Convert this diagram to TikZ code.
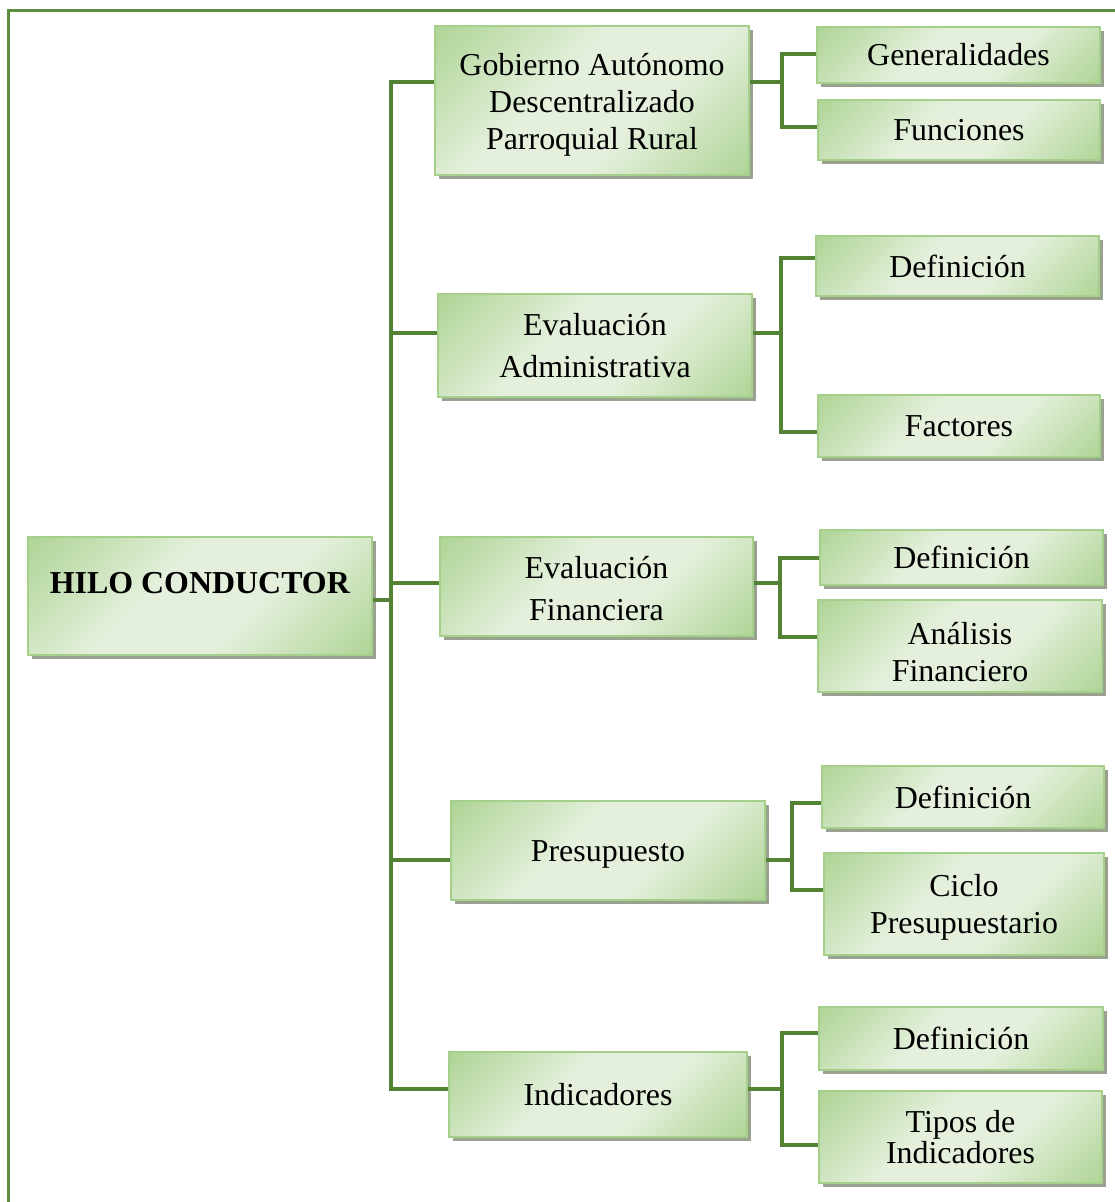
\documentclass[tikz,border=0pt]{standalone}
\usepackage{fontspec}
\setmainfont{Liberation Serif}
\usetikzlibrary{shadows}
\definecolor{gA}{RGB}{166,207,138}
\definecolor{gL}{RGB}{228,240,220}
\definecolor{bordc}{RGB}{165,208,140}
\definecolor{shadc}{RGB}{152,162,142}
\definecolor{linec}{RGB}{84,130,53}
\definecolor{framec}{RGB}{94,140,62}
\pgfdeclareverticalshading{boxshade}{100bp}{color(0bp)=(gA); color(10bp)=(gA); color(40bp)=(gL); color(58bp)=(gL); color(90bp)=(gA); color(100bp)=(gA)}
\newlength\upx
\setlength\upx{0.025cm}
\newcommand\lift[1]{\rule{0pt}{#1}}
\tikzset{
  box/.style={rectangle, draw=bordc, line width=1.5\upx,
    shading=boxshade, shading angle=45,
    drop shadow={shadow xshift=4\upx, shadow yshift=-4\upx, fill=shadc, opacity=1, draw=none},
    align=center, inner sep=0pt, font=\fontsize{22.7}{26.2}\selectfont},
  tightlines/.style={font=\fontsize{22.7}{22}\selectfont},
  widelines/.style={font=\fontsize{22.7}{29.5}\selectfont},
  conn/.style={draw=linec, line width=4.5\upx},
}
\begin{document}
\begin{tikzpicture}[x=0.025cm, y=-0.025cm]
\useasboundingbox (0,0) rectangle (1115,1202);
\draw[framec, line width=3\upx] (8,1260) -- (8,11) -- (1160,11);

% level 0 and 1
\node[box, minimum width=344\upx, minimum height=118\upx] (root) at (200,596) {\raisebox{18pt}{\textbf{HILO CONDUCTOR}}};
\node[box, minimum width=314\upx, minimum height=149\upx] (gob) at (592,100.5) {\lift{22pt}Gobierno Autónomo\\Descentralizado\\Parroquial Rural};
\node[box, widelines, minimum width=314\upx, minimum height=103\upx] (adm) at (595,345.5) {Evaluación\\Administrativa};
\node[box, widelines, minimum width=313\upx, minimum height=99\upx] (fin) at (596.5,586.5) {\lift{19pt}Evaluación\\Financiera};
\node[box, minimum width=314\upx, minimum height=99\upx] (pre) at (608,850.5) {\lift{21pt}Presupuesto};
\node[box, minimum width=298\upx, minimum height=85\upx] (ind) at (598,1094.5) {Indicadores};

% level 2
\node[box, minimum width=283\upx, minimum height=56\upx] (gen) at (958.5,55) {Generalidades};
\node[box, minimum width=282\upx, minimum height=60\upx] (fun) at (959,130) {Funciones};
\node[box, minimum width=283\upx, minimum height=60\upx] (adef) at (957.5,266) {Definición};
\node[box, minimum width=282\upx, minimum height=62\upx] (fac) at (959,426) {Factores};
\node[box, minimum width=283\upx, minimum height=55\upx] (fdef) at (961.5,557.5) {Definición};
\node[box, minimum width=284\upx, minimum height=92\upx] (ana) at (960,646) {\lift{24.5pt}Análisis\\Financiero};
\node[box, minimum width=282\upx, minimum height=62\upx] (pdef) at (963,797) {Definición};
\node[box, minimum width=280\upx, minimum height=102\upx] (cic) at (964,904) {\lift{21pt}Ciclo\\Presupuestario};
\node[box, minimum width=284\upx, minimum height=63\upx] (idef) at (961,1038.5) {Definición};
\node[box, tightlines, minimum width=283\upx, minimum height=92\upx] (tip) at (960.5,1137) {Tipos de\\Indicadores};

% junction points
\coordinate (t0) at (391,600);
\coordinate (j1) at (391,82);
\coordinate (j2) at (391,333);
\coordinate (j3) at (391,583);
\coordinate (j4) at (391,860);
\coordinate (j5) at (391,1089);
\coordinate (s1) at (782,82);  \coordinate (s1a) at (782,54);   \coordinate (s1b) at (782,127);
\coordinate (s2) at (781,333); \coordinate (s2a) at (781,258);  \coordinate (s2b) at (781,432);
\coordinate (s3) at (780,583); \coordinate (s3a) at (780,558);  \coordinate (s3b) at (780,637);
\coordinate (s4) at (792,860); \coordinate (s4a) at (792,803);  \coordinate (s4b) at (792,890);
\coordinate (s5) at (782,1089);\coordinate (s5a) at (782,1033); \coordinate (s5b) at (782,1145);

% main trunk
\draw[conn] (root.east |- t0) -- (t0);
\draw[conn] (gob.west |- j1) -- (j1) -- (j5) -- (ind.west |- j5);
\draw[conn] (j2) -- (adm.west |- j2);
\draw[conn] (j3) -- (fin.west |- j3);
\draw[conn] (j4) -- (pre.west |- j4);

% sub groups
\draw[conn] (gob.east |- s1) -- (s1);
\draw[conn] (gen.west |- s1a) -- (s1a) -- (s1b) -- (fun.west |- s1b);
\draw[conn] (adm.east |- s2) -- (s2);
\draw[conn] (adef.west |- s2a) -- (s2a) -- (s2b) -- (fac.west |- s2b);
\draw[conn] (fin.east |- s3) -- (s3);
\draw[conn] (fdef.west |- s3a) -- (s3a) -- (s3b) -- (ana.west |- s3b);
\draw[conn] (pre.east |- s4) -- (s4);
\draw[conn] (pdef.west |- s4a) -- (s4a) -- (s4b) -- (cic.west |- s4b);
\draw[conn] (ind.east |- s5) -- (s5);
\draw[conn] (idef.west |- s5a) -- (s5a) -- (s5b) -- (tip.west |- s5b);
\end{tikzpicture}
\end{document}
